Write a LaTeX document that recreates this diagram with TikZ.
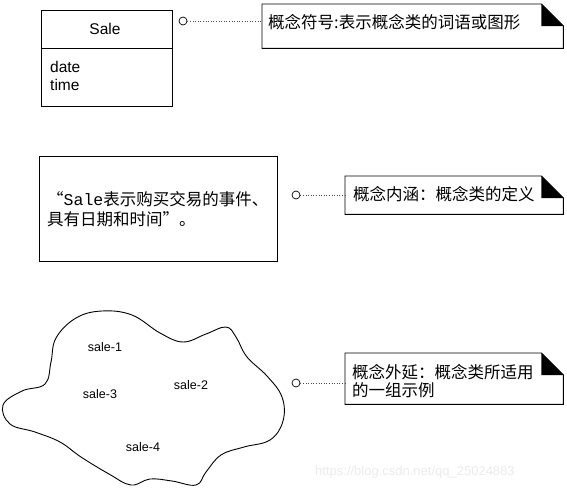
\documentclass[tikz,border=0pt]{standalone}
\usepackage{fontspec}
\setmainfont{Liberation Sans}
\newfontfamily\cjk{Noto Sans CJK SC}
\newfontfamily\monofam{Liberation Mono}
\begin{document}
\begin{tikzpicture}[x=1pt,y=-1pt,
  frame/.style={draw=black,line width=0.9pt,inner sep=0pt,rectangle},
  lbl/.style={inner sep=0pt,font=\fontsize{15.5}{18}\selectfont},
  smalllbl/.style={inner sep=0pt,font=\fontsize{12.5}{15}\selectfont},
  cjktext/.style={inner sep=0pt,align=left,font=\cjk\fontsize{16.5}{18.5}\selectfont},
  notebox/.style={inner sep=0pt,rectangle},
  pin/.style={circle,draw=black,line width=0.7pt,minimum size=8pt,inner sep=0pt,fill=white},
  link/.style={dotted,line width=0.6pt,draw=black!70}
]
\useasboundingbox (0,0) rectangle (567,490);

% ---- Sale class ----
\node[frame,minimum width=131pt,minimum height=96pt,anchor=north west] (sale) at (41,10) {};
\draw[line width=0.9pt] (sale.west |- 0,48) -- (sale.east |- 0,48);
\node[lbl] (salename) at (105,29) {Sale};
\node[lbl,anchor=west,align=left] (attrs) at (50,76) {date\\time};

% ---- note 1 ----
\node[notebox,minimum width=301pt,minimum height=44pt,anchor=north west] (n1) at (262,4) {};
\draw[line width=0.9pt] (n1.north west) -- ([xshift=-22pt]n1.north east) -- ([yshift=-22pt]n1.north east) -- (n1.south east) -- (n1.south west) -- cycle;
\fill ([xshift=-22pt]n1.north east) -- ([yshift=-22pt]n1.north east) -- ([xshift=-22pt,yshift=-22pt]n1.north east) -- cycle;
\node[cjktext,anchor=west] (t1) at (268,22) {概念符号:表示概念类的词语或图形};
\node[pin] (c1) at (183,21) {};
\draw[link] (c1.east) -- (c1.east -| n1.west);

% ---- intension box ----
\node[frame,minimum width=238pt,minimum height=105pt,anchor=north west] (intent) at (39,156) {};
\node[cjktext,anchor=west,font=\cjk\fontsize{16.5}{19.5}\selectfont] (t2in) at (47,209) {“{\monofam Sale}表示购买交易的事件、\\具有日期和时间”。};

% ---- note 2 ----
\node[notebox,minimum width=218pt,minimum height=38pt,anchor=north west] (n2) at (345,176) {};
\draw[line width=0.9pt] (n2.north west) -- ([xshift=-22pt]n2.north east) -- ([yshift=-22pt]n2.north east) -- (n2.south east) -- (n2.south west) -- cycle;
\fill ([xshift=-22pt]n2.north east) -- ([yshift=-22pt]n2.north east) -- ([xshift=-22pt,yshift=-22pt]n2.north east) -- cycle;
\node[cjktext,anchor=west] (t2) at (353,194) {概念内涵：概念类的定义};
\node[pin] (c2) at (296,195) {};
\draw[link] (c2.east) -- (c2.east -| n2.west);

% ---- extension cloud ----
\draw[line width=0.9pt] plot[smooth cycle,tension=0.65] coordinates {
 (3,405) (22,391) (45,384) (51,362) (56,338) (76,318) (102,311) (132,315)
 (160,333) (183,342) (206,334) (226,327) (236,337) (247,357) (267,376)
 (282,397) (283,421) (270,440) (244,447) (221,455) (206,472) (196,485)
 (172,481) (150,479) (131,485) (109,474) (81,457) (60,442) (35,432) (10,424)};
\node[smalllbl] (s1) at (105,347) {sale-1};
\node[smalllbl] (s2) at (191,385) {sale-2};
\node[smalllbl] (s3) at (100,394) {sale-3};
\node[smalllbl] (s4) at (143,447) {sale-4};

% ---- note 3 ----
\node[notebox,minimum width=218pt,minimum height=51pt,anchor=north west] (n3) at (345,353) {};
\draw[line width=0.9pt] (n3.north west) -- ([xshift=-22pt]n3.north east) -- ([yshift=-22pt]n3.north east) -- (n3.south east) -- (n3.south west) -- cycle;
\fill ([xshift=-22pt]n3.north east) -- ([yshift=-22pt]n3.north east) -- ([xshift=-22pt,yshift=-22pt]n3.north east) -- cycle;
\node[cjktext,anchor=west] (t3) at (352,381) {概念外延：概念类所适用\\的一组示例};
\node[pin] (c3) at (296,383) {};
\draw[link] (c3.east) -- (c3.east -| n3.west);

% ---- watermark ----
\node[inner sep=0pt,anchor=west,text=black!8,font=\fontsize{13}{15}\selectfont] (wm) at (315,472) {https://blog.csdn.net/qq\_25024883};
\end{tikzpicture}
\end{document}
